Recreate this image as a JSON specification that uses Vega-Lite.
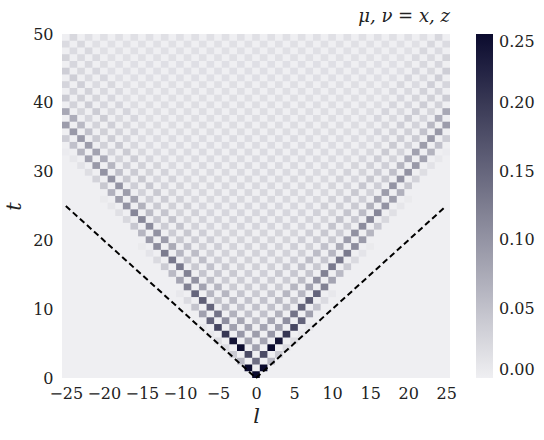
{
"$schema":"https://vega.github.io/schema/vega-lite/v6.json",
"width":388,"height":344,"autosize":"none",
"padding":{"left":62,"top":34,"right":94,"bottom":62},
"background":"white",
"config":{"view":{"fill":"#efeff2","stroke":null},"font":"DejaVu Serif"},
"title":{"text":"μ, ν = x, z","anchor":"end","frame":"group","font":"DejaVu Serif","fontStyle":"italic","fontWeight":"normal","fontSize":18,"color":"#222","offset":0},
"datasets":{
"cone":[{"s":"a","l":0,"t":0},{"s":"a","l":-25,"t":25},{"s":"b","l":0,"t":0},{"s":"b","l":25,"t":25}],
"cells":[
{"l":0,"t":0,"v":0.25},
{"l":-1,"t":1,"v":0.25},{"l":1,"t":1,"v":0.25},
{"l":-2,"t":2,"v":0.06},{"l":0,"t":2,"v":0.14},{"l":2,"t":2,"v":0.06},
{"l":-3,"t":3,"v":0.04},{"l":-1,"t":3,"v":0.18},{"l":1,"t":3,"v":0.18},{"l":3,"t":3,"v":0.04},
{"l":-4,"t":4,"v":0.021},{"l":-2,"t":4,"v":0.248},{"l":0,"t":4,"v":0.085},{"l":2,"t":4,"v":0.248},{"l":4,"t":4,"v":0.021},
{"l":-5,"t":5,"v":0.02},{"l":-3,"t":5,"v":0.238},{"l":-1,"t":5,"v":0.082},{"l":1,"t":5,"v":0.082},{"l":3,"t":5,"v":0.238},{"l":5,"t":5,"v":0.02},
{"l":-6,"t":6,"v":0.009},{"l":-4,"t":6,"v":0.202},{"l":-2,"t":6,"v":0.095},{"l":0,"t":6,"v":0.09},{"l":2,"t":6,"v":0.095},{"l":4,"t":6,"v":0.202},{"l":6,"t":6,"v":0.009},
{"l":-7,"t":7,"v":0.008},{"l":-5,"t":7,"v":0.184},{"l":-3,"t":7,"v":0.086},{"l":-1,"t":7,"v":0.082},{"l":1,"t":7,"v":0.082},{"l":3,"t":7,"v":0.086},{"l":5,"t":7,"v":0.184},{"l":7,"t":7,"v":0.008},
{"l":-6,"t":8,"v":0.152},{"l":-4,"t":8,"v":0.105},{"l":-2,"t":8,"v":0.08},{"l":0,"t":8,"v":0.055},{"l":2,"t":8,"v":0.08},{"l":4,"t":8,"v":0.105},{"l":6,"t":8,"v":0.152},
{"l":-7,"t":9,"v":0.086},{"l":-5,"t":9,"v":0.135},{"l":-3,"t":9,"v":0.067},{"l":-1,"t":9,"v":0.05},{"l":1,"t":9,"v":0.05},{"l":3,"t":9,"v":0.067},{"l":5,"t":9,"v":0.135},{"l":7,"t":9,"v":0.086},
{"l":-8,"t":10,"v":0.047},{"l":-6,"t":10,"v":0.151},{"l":-4,"t":10,"v":0.055},{"l":-2,"t":10,"v":0.05},{"l":0,"t":10,"v":0.05},{"l":2,"t":10,"v":0.05},{"l":4,"t":10,"v":0.055},{"l":6,"t":10,"v":0.151},{"l":8,"t":10,"v":0.047},
{"l":-9,"t":11,"v":0.022},{"l":-7,"t":11,"v":0.158},{"l":-5,"t":11,"v":0.052},{"l":-3,"t":11,"v":0.057},{"l":-1,"t":11,"v":0.049},{"l":1,"t":11,"v":0.049},{"l":3,"t":11,"v":0.057},{"l":5,"t":11,"v":0.052},{"l":7,"t":11,"v":0.158},{"l":9,"t":11,"v":0.022},
{"l":-10,"t":12,"v":0.008},{"l":-8,"t":12,"v":0.151},{"l":-6,"t":12,"v":0.061},{"l":-4,"t":12,"v":0.063},{"l":-2,"t":12,"v":0.046},{"l":0,"t":12,"v":0.041},{"l":2,"t":12,"v":0.046},{"l":4,"t":12,"v":0.063},{"l":6,"t":12,"v":0.061},{"l":8,"t":12,"v":0.151},{"l":10,"t":12,"v":0.008},
{"l":-9,"t":13,"v":0.121},{"l":-7,"t":13,"v":0.083},{"l":-5,"t":13,"v":0.063},{"l":-3,"t":13,"v":0.039},{"l":-1,"t":13,"v":0.039},{"l":1,"t":13,"v":0.039},{"l":3,"t":13,"v":0.039},{"l":5,"t":13,"v":0.063},{"l":7,"t":13,"v":0.083},{"l":9,"t":13,"v":0.121},
{"l":-10,"t":14,"v":0.082},{"l":-8,"t":14,"v":0.102},{"l":-6,"t":14,"v":0.056},{"l":-4,"t":14,"v":0.038},{"l":-2,"t":14,"v":0.038},{"l":0,"t":14,"v":0.037},{"l":2,"t":14,"v":0.038},{"l":4,"t":14,"v":0.038},{"l":6,"t":14,"v":0.056},{"l":8,"t":14,"v":0.102},{"l":10,"t":14,"v":0.082},
{"l":-11,"t":15,"v":0.058},{"l":-9,"t":15,"v":0.12},{"l":-7,"t":15,"v":0.046},{"l":-5,"t":15,"v":0.044},{"l":-3,"t":15,"v":0.042},{"l":-1,"t":15,"v":0.035},{"l":1,"t":15,"v":0.035},{"l":3,"t":15,"v":0.042},{"l":5,"t":15,"v":0.044},{"l":7,"t":15,"v":0.046},{"l":9,"t":15,"v":0.12},{"l":11,"t":15,"v":0.058},
{"l":-12,"t":16,"v":0.039},{"l":-10,"t":16,"v":0.129},{"l":-8,"t":16,"v":0.042},{"l":-6,"t":16,"v":0.05},{"l":-4,"t":16,"v":0.041},{"l":-2,"t":16,"v":0.034},{"l":0,"t":16,"v":0.034},{"l":2,"t":16,"v":0.034},{"l":4,"t":16,"v":0.041},{"l":6,"t":16,"v":0.05},{"l":8,"t":16,"v":0.042},{"l":10,"t":16,"v":0.129},{"l":12,"t":16,"v":0.039},
{"l":-13,"t":17,"v":0.023},{"l":-11,"t":17,"v":0.13},{"l":-9,"t":17,"v":0.045},{"l":-7,"t":17,"v":0.054},{"l":-5,"t":17,"v":0.037},{"l":-3,"t":17,"v":0.033},{"l":-1,"t":17,"v":0.033},{"l":1,"t":17,"v":0.033},{"l":3,"t":17,"v":0.033},{"l":5,"t":17,"v":0.037},{"l":7,"t":17,"v":0.054},{"l":9,"t":17,"v":0.045},{"l":11,"t":17,"v":0.13},{"l":13,"t":17,"v":0.023},
{"l":-14,"t":18,"v":0.012},{"l":-12,"t":18,"v":0.127},{"l":-10,"t":18,"v":0.061},{"l":-8,"t":18,"v":0.055},{"l":-6,"t":18,"v":0.034},{"l":-4,"t":18,"v":0.032},{"l":-2,"t":18,"v":0.032},{"l":0,"t":18,"v":0.032},{"l":2,"t":18,"v":0.032},{"l":4,"t":18,"v":0.032},{"l":6,"t":18,"v":0.034},{"l":8,"t":18,"v":0.055},{"l":10,"t":18,"v":0.061},{"l":12,"t":18,"v":0.127},{"l":14,"t":18,"v":0.012},
{"l":-15,"t":19,"v":0.006},{"l":-13,"t":19,"v":0.109},{"l":-11,"t":19,"v":0.076},{"l":-9,"t":19,"v":0.05},{"l":-7,"t":19,"v":0.034},{"l":-5,"t":19,"v":0.036},{"l":-3,"t":19,"v":0.031},{"l":-1,"t":19,"v":0.031},{"l":1,"t":19,"v":0.031},{"l":3,"t":19,"v":0.031},{"l":5,"t":19,"v":0.036},{"l":7,"t":19,"v":0.034},{"l":9,"t":19,"v":0.05},{"l":11,"t":19,"v":0.076},{"l":13,"t":19,"v":0.109},{"l":15,"t":19,"v":0.006},
{"l":-14,"t":20,"v":0.092},{"l":-12,"t":20,"v":0.091},{"l":-10,"t":20,"v":0.043},{"l":-8,"t":20,"v":0.038},{"l":-6,"t":20,"v":0.037},{"l":-4,"t":20,"v":0.03},{"l":-2,"t":20,"v":0.03},{"l":0,"t":20,"v":0.03},{"l":2,"t":20,"v":0.03},{"l":4,"t":20,"v":0.03},{"l":6,"t":20,"v":0.037},{"l":8,"t":20,"v":0.038},{"l":10,"t":20,"v":0.043},{"l":12,"t":20,"v":0.091},{"l":14,"t":20,"v":0.092},
{"l":-15,"t":21,"v":0.062},{"l":-13,"t":21,"v":0.102},{"l":-11,"t":21,"v":0.038},{"l":-9,"t":21,"v":0.043},{"l":-7,"t":21,"v":0.036},{"l":-5,"t":21,"v":0.029},{"l":-3,"t":21,"v":0.029},{"l":-1,"t":21,"v":0.029},{"l":1,"t":21,"v":0.029},{"l":3,"t":21,"v":0.029},{"l":5,"t":21,"v":0.029},{"l":7,"t":21,"v":0.036},{"l":9,"t":21,"v":0.043},{"l":11,"t":21,"v":0.038},{"l":13,"t":21,"v":0.102},{"l":15,"t":21,"v":0.062},
{"l":-16,"t":22,"v":0.044},{"l":-14,"t":22,"v":0.109},{"l":-12,"t":22,"v":0.038},{"l":-10,"t":22,"v":0.047},{"l":-8,"t":22,"v":0.032},{"l":-6,"t":22,"v":0.028},{"l":-4,"t":22,"v":0.028},{"l":-2,"t":22,"v":0.028},{"l":0,"t":22,"v":0.028},{"l":2,"t":22,"v":0.028},{"l":4,"t":22,"v":0.028},{"l":6,"t":22,"v":0.028},{"l":8,"t":22,"v":0.032},{"l":10,"t":22,"v":0.047},{"l":12,"t":22,"v":0.038},{"l":14,"t":22,"v":0.109},{"l":16,"t":22,"v":0.044},
{"l":-17,"t":23,"v":0.025},{"l":-15,"t":23,"v":0.113},{"l":-13,"t":23,"v":0.044},{"l":-11,"t":23,"v":0.048},{"l":-9,"t":23,"v":0.03},{"l":-7,"t":23,"v":0.031},{"l":-5,"t":23,"v":0.028},{"l":-3,"t":23,"v":0.028},{"l":-1,"t":23,"v":0.028},{"l":1,"t":23,"v":0.028},{"l":3,"t":23,"v":0.028},{"l":5,"t":23,"v":0.028},{"l":7,"t":23,"v":0.031},{"l":9,"t":23,"v":0.03},{"l":11,"t":23,"v":0.048},{"l":13,"t":23,"v":0.044},{"l":15,"t":23,"v":0.113},{"l":17,"t":23,"v":0.025},
{"l":-18,"t":24,"v":0.016},{"l":-16,"t":24,"v":0.114},{"l":-14,"t":24,"v":0.056},{"l":-12,"t":24,"v":0.046},{"l":-10,"t":24,"v":0.03},{"l":-8,"t":24,"v":0.033},{"l":-6,"t":24,"v":0.027},{"l":-4,"t":24,"v":0.027},{"l":-2,"t":24,"v":0.027},{"l":0,"t":24,"v":0.027},{"l":2,"t":24,"v":0.027},{"l":4,"t":24,"v":0.027},{"l":6,"t":24,"v":0.027},{"l":8,"t":24,"v":0.033},{"l":10,"t":24,"v":0.03},{"l":12,"t":24,"v":0.046},{"l":14,"t":24,"v":0.056},{"l":16,"t":24,"v":0.114},{"l":18,"t":24,"v":0.016},
{"l":-19,"t":25,"v":0.01},{"l":-17,"t":25,"v":0.101},{"l":-15,"t":25,"v":0.067},{"l":-13,"t":25,"v":0.041},{"l":-11,"t":25,"v":0.034},{"l":-9,"t":25,"v":0.034},{"l":-7,"t":25,"v":0.026},{"l":-5,"t":25,"v":0.026},{"l":-3,"t":25,"v":0.026},{"l":-1,"t":25,"v":0.026},{"l":1,"t":25,"v":0.026},{"l":3,"t":25,"v":0.026},{"l":5,"t":25,"v":0.026},{"l":7,"t":25,"v":0.026},{"l":9,"t":25,"v":0.034},{"l":11,"t":25,"v":0.034},{"l":13,"t":25,"v":0.041},{"l":15,"t":25,"v":0.067},{"l":17,"t":25,"v":0.101},{"l":19,"t":25,"v":0.01},
{"l":-20,"t":26,"v":0.006},{"l":-18,"t":26,"v":0.089},{"l":-16,"t":26,"v":0.081},{"l":-14,"t":26,"v":0.036},{"l":-12,"t":26,"v":0.038},{"l":-10,"t":26,"v":0.033},{"l":-8,"t":26,"v":0.025},{"l":-6,"t":26,"v":0.025},{"l":-4,"t":26,"v":0.025},{"l":-2,"t":26,"v":0.025},{"l":0,"t":26,"v":0.025},{"l":2,"t":26,"v":0.025},{"l":4,"t":26,"v":0.025},{"l":6,"t":26,"v":0.025},{"l":8,"t":26,"v":0.025},{"l":10,"t":26,"v":0.033},{"l":12,"t":26,"v":0.038},{"l":14,"t":26,"v":0.036},{"l":16,"t":26,"v":0.081},{"l":18,"t":26,"v":0.089},{"l":20,"t":26,"v":0.006},
{"l":-19,"t":27,"v":0.068},{"l":-17,"t":27,"v":0.09},{"l":-15,"t":27,"v":0.032},{"l":-13,"t":27,"v":0.042},{"l":-11,"t":27,"v":0.029},{"l":-9,"t":27,"v":0.025},{"l":-7,"t":27,"v":0.025},{"l":-5,"t":27,"v":0.025},{"l":-3,"t":27,"v":0.025},{"l":-1,"t":27,"v":0.025},{"l":1,"t":27,"v":0.025},{"l":3,"t":27,"v":0.025},{"l":5,"t":27,"v":0.025},{"l":7,"t":27,"v":0.025},{"l":9,"t":27,"v":0.025},{"l":11,"t":27,"v":0.029},{"l":13,"t":27,"v":0.042},{"l":15,"t":27,"v":0.032},{"l":17,"t":27,"v":0.09},{"l":19,"t":27,"v":0.068},
{"l":-20,"t":28,"v":0.043},{"l":-18,"t":28,"v":0.1},{"l":-16,"t":28,"v":0.036},{"l":-14,"t":28,"v":0.044},{"l":-12,"t":28,"v":0.028},{"l":-10,"t":28,"v":0.029},{"l":-8,"t":28,"v":0.024},{"l":-6,"t":28,"v":0.024},{"l":-4,"t":28,"v":0.024},{"l":-2,"t":28,"v":0.024},{"l":0,"t":28,"v":0.024},{"l":2,"t":28,"v":0.024},{"l":4,"t":28,"v":0.024},{"l":6,"t":28,"v":0.024},{"l":8,"t":28,"v":0.024},{"l":10,"t":28,"v":0.029},{"l":12,"t":28,"v":0.028},{"l":14,"t":28,"v":0.044},{"l":16,"t":28,"v":0.036},{"l":18,"t":28,"v":0.1},{"l":20,"t":28,"v":0.043},
{"l":-21,"t":29,"v":0.031},{"l":-19,"t":29,"v":0.101},{"l":-17,"t":29,"v":0.042},{"l":-15,"t":29,"v":0.043},{"l":-13,"t":29,"v":0.027},{"l":-11,"t":29,"v":0.031},{"l":-9,"t":29,"v":0.024},{"l":-7,"t":29,"v":0.024},{"l":-5,"t":29,"v":0.024},{"l":-3,"t":29,"v":0.024},{"l":-1,"t":29,"v":0.024},{"l":1,"t":29,"v":0.024},{"l":3,"t":29,"v":0.024},{"l":5,"t":29,"v":0.024},{"l":7,"t":29,"v":0.024},{"l":9,"t":29,"v":0.024},{"l":11,"t":29,"v":0.031},{"l":13,"t":29,"v":0.027},{"l":15,"t":29,"v":0.043},{"l":17,"t":29,"v":0.042},{"l":19,"t":29,"v":0.101},{"l":21,"t":29,"v":0.031},
{"l":-22,"t":30,"v":0.019},{"l":-20,"t":30,"v":0.101},{"l":-18,"t":30,"v":0.051},{"l":-16,"t":30,"v":0.039},{"l":-14,"t":30,"v":0.03},{"l":-12,"t":30,"v":0.031},{"l":-10,"t":30,"v":0.023},{"l":-8,"t":30,"v":0.023},{"l":-6,"t":30,"v":0.023},{"l":-4,"t":30,"v":0.023},{"l":-2,"t":30,"v":0.023},{"l":0,"t":30,"v":0.023},{"l":2,"t":30,"v":0.023},{"l":4,"t":30,"v":0.023},{"l":6,"t":30,"v":0.023},{"l":8,"t":30,"v":0.023},{"l":10,"t":30,"v":0.023},{"l":12,"t":30,"v":0.031},{"l":14,"t":30,"v":0.03},{"l":16,"t":30,"v":0.039},{"l":18,"t":30,"v":0.051},{"l":20,"t":30,"v":0.101},{"l":22,"t":30,"v":0.019},
{"l":-23,"t":31,"v":0.014},{"l":-21,"t":31,"v":0.094},{"l":-19,"t":31,"v":0.062},{"l":-17,"t":31,"v":0.035},{"l":-15,"t":31,"v":0.033},{"l":-13,"t":31,"v":0.029},{"l":-11,"t":31,"v":0.023},{"l":-9,"t":31,"v":0.023},{"l":-7,"t":31,"v":0.023},{"l":-5,"t":31,"v":0.023},{"l":-3,"t":31,"v":0.023},{"l":-1,"t":31,"v":0.023},{"l":1,"t":31,"v":0.023},{"l":3,"t":31,"v":0.023},{"l":5,"t":31,"v":0.023},{"l":7,"t":31,"v":0.023},{"l":9,"t":31,"v":0.023},{"l":11,"t":31,"v":0.023},{"l":13,"t":31,"v":0.029},{"l":15,"t":31,"v":0.033},{"l":17,"t":31,"v":0.035},{"l":19,"t":31,"v":0.062},{"l":21,"t":31,"v":0.094},{"l":23,"t":31,"v":0.014},
{"l":-24,"t":32,"v":0.009},{"l":-22,"t":32,"v":0.084},{"l":-20,"t":32,"v":0.073},{"l":-18,"t":32,"v":0.031},{"l":-16,"t":32,"v":0.037},{"l":-14,"t":32,"v":0.027},{"l":-12,"t":32,"v":0.022},{"l":-10,"t":32,"v":0.022},{"l":-8,"t":32,"v":0.022},{"l":-6,"t":32,"v":0.022},{"l":-4,"t":32,"v":0.022},{"l":-2,"t":32,"v":0.022},{"l":0,"t":32,"v":0.022},{"l":2,"t":32,"v":0.022},{"l":4,"t":32,"v":0.022},{"l":6,"t":32,"v":0.022},{"l":8,"t":32,"v":0.022},{"l":10,"t":32,"v":0.022},{"l":12,"t":32,"v":0.022},{"l":14,"t":32,"v":0.027},{"l":16,"t":32,"v":0.037},{"l":18,"t":32,"v":0.031},{"l":20,"t":32,"v":0.073},{"l":22,"t":32,"v":0.084},{"l":24,"t":32,"v":0.009},
{"l":-25,"t":33,"v":0.004},{"l":-23,"t":33,"v":0.065},{"l":-21,"t":33,"v":0.084},{"l":-19,"t":33,"v":0.031},{"l":-17,"t":33,"v":0.04},{"l":-15,"t":33,"v":0.025},{"l":-13,"t":33,"v":0.022},{"l":-11,"t":33,"v":0.022},{"l":-9,"t":33,"v":0.022},{"l":-7,"t":33,"v":0.022},{"l":-5,"t":33,"v":0.022},{"l":-3,"t":33,"v":0.022},{"l":-1,"t":33,"v":0.022},{"l":1,"t":33,"v":0.022},{"l":3,"t":33,"v":0.022},{"l":5,"t":33,"v":0.022},{"l":7,"t":33,"v":0.022},{"l":9,"t":33,"v":0.022},{"l":11,"t":33,"v":0.022},{"l":13,"t":33,"v":0.022},{"l":15,"t":33,"v":0.025},{"l":17,"t":33,"v":0.04},{"l":19,"t":33,"v":0.031},{"l":21,"t":33,"v":0.084},{"l":23,"t":33,"v":0.065},{"l":25,"t":33,"v":0.004},
{"l":-24,"t":34,"v":0.05},{"l":-22,"t":34,"v":0.09},{"l":-20,"t":34,"v":0.033},{"l":-18,"t":34,"v":0.041},{"l":-16,"t":34,"v":0.025},{"l":-14,"t":34,"v":0.021},{"l":-12,"t":34,"v":0.021},{"l":-10,"t":34,"v":0.021},{"l":-8,"t":34,"v":0.021},{"l":-6,"t":34,"v":0.021},{"l":-4,"t":34,"v":0.021},{"l":-2,"t":34,"v":0.021},{"l":0,"t":34,"v":0.021},{"l":2,"t":34,"v":0.021},{"l":4,"t":34,"v":0.021},{"l":6,"t":34,"v":0.021},{"l":8,"t":34,"v":0.021},{"l":10,"t":34,"v":0.021},{"l":12,"t":34,"v":0.021},{"l":14,"t":34,"v":0.021},{"l":16,"t":34,"v":0.025},{"l":18,"t":34,"v":0.041},{"l":20,"t":34,"v":0.033},{"l":22,"t":34,"v":0.09},{"l":24,"t":34,"v":0.05},
{"l":-25,"t":35,"v":0.036},{"l":-23,"t":35,"v":0.093},{"l":-21,"t":35,"v":0.04},{"l":-19,"t":35,"v":0.037},{"l":-17,"t":35,"v":0.028},{"l":-15,"t":35,"v":0.021},{"l":-13,"t":35,"v":0.021},{"l":-11,"t":35,"v":0.021},{"l":-9,"t":35,"v":0.021},{"l":-7,"t":35,"v":0.021},{"l":-5,"t":35,"v":0.021},{"l":-3,"t":35,"v":0.021},{"l":-1,"t":35,"v":0.021},{"l":1,"t":35,"v":0.021},{"l":3,"t":35,"v":0.021},{"l":5,"t":35,"v":0.021},{"l":7,"t":35,"v":0.021},{"l":9,"t":35,"v":0.021},{"l":11,"t":35,"v":0.021},{"l":13,"t":35,"v":0.021},{"l":15,"t":35,"v":0.021},{"l":17,"t":35,"v":0.028},{"l":19,"t":35,"v":0.037},{"l":21,"t":35,"v":0.04},{"l":23,"t":35,"v":0.093},{"l":25,"t":35,"v":0.036},
{"l":-24,"t":36,"v":0.094},{"l":-22,"t":36,"v":0.049},{"l":-20,"t":36,"v":0.034},{"l":-18,"t":36,"v":0.031},{"l":-16,"t":36,"v":0.028},{"l":-14,"t":36,"v":0.02},{"l":-12,"t":36,"v":0.02},{"l":-10,"t":36,"v":0.02},{"l":-8,"t":36,"v":0.02},{"l":-6,"t":36,"v":0.02},{"l":-4,"t":36,"v":0.02},{"l":-2,"t":36,"v":0.02},{"l":0,"t":36,"v":0.02},{"l":2,"t":36,"v":0.02},{"l":4,"t":36,"v":0.02},{"l":6,"t":36,"v":0.02},{"l":8,"t":36,"v":0.02},{"l":10,"t":36,"v":0.02},{"l":12,"t":36,"v":0.02},{"l":14,"t":36,"v":0.02},{"l":16,"t":36,"v":0.028},{"l":18,"t":36,"v":0.031},{"l":20,"t":36,"v":0.034},{"l":22,"t":36,"v":0.049},{"l":24,"t":36,"v":0.094},
{"l":-25,"t":37,"v":0.091},{"l":-23,"t":37,"v":0.059},{"l":-21,"t":37,"v":0.031},{"l":-19,"t":37,"v":0.035},{"l":-17,"t":37,"v":0.025},{"l":-15,"t":37,"v":0.02},{"l":-13,"t":37,"v":0.02},{"l":-11,"t":37,"v":0.02},{"l":-9,"t":37,"v":0.02},{"l":-7,"t":37,"v":0.02},{"l":-5,"t":37,"v":0.02},{"l":-3,"t":37,"v":0.02},{"l":-1,"t":37,"v":0.02},{"l":1,"t":37,"v":0.02},{"l":3,"t":37,"v":0.02},{"l":5,"t":37,"v":0.02},{"l":7,"t":37,"v":0.02},{"l":9,"t":37,"v":0.02},{"l":11,"t":37,"v":0.02},{"l":13,"t":37,"v":0.02},{"l":15,"t":37,"v":0.02},{"l":17,"t":37,"v":0.025},{"l":19,"t":37,"v":0.035},{"l":21,"t":37,"v":0.031},{"l":23,"t":37,"v":0.059},{"l":25,"t":37,"v":0.091},
{"l":-24,"t":38,"v":0.072},{"l":-22,"t":38,"v":0.028},{"l":-20,"t":38,"v":0.038},{"l":-18,"t":38,"v":0.024},{"l":-16,"t":38,"v":0.026},{"l":-14,"t":38,"v":0.019},{"l":-12,"t":38,"v":0.019},{"l":-10,"t":38,"v":0.019},{"l":-8,"t":38,"v":0.019},{"l":-6,"t":38,"v":0.019},{"l":-4,"t":38,"v":0.019},{"l":-2,"t":38,"v":0.019},{"l":0,"t":38,"v":0.019},{"l":2,"t":38,"v":0.019},{"l":4,"t":38,"v":0.019},{"l":6,"t":38,"v":0.019},{"l":8,"t":38,"v":0.019},{"l":10,"t":38,"v":0.019},{"l":12,"t":38,"v":0.019},{"l":14,"t":38,"v":0.019},{"l":16,"t":38,"v":0.026},{"l":18,"t":38,"v":0.024},{"l":20,"t":38,"v":0.038},{"l":22,"t":38,"v":0.028},{"l":24,"t":38,"v":0.072},
{"l":-25,"t":39,"v":0.078},{"l":-23,"t":39,"v":0.029},{"l":-21,"t":39,"v":0.038},{"l":-19,"t":39,"v":0.024},{"l":-17,"t":39,"v":0.028},{"l":-15,"t":39,"v":0.019},{"l":-13,"t":39,"v":0.019},{"l":-11,"t":39,"v":0.019},{"l":-9,"t":39,"v":0.019},{"l":-7,"t":39,"v":0.019},{"l":-5,"t":39,"v":0.019},{"l":-3,"t":39,"v":0.019},{"l":-1,"t":39,"v":0.019},{"l":1,"t":39,"v":0.019},{"l":3,"t":39,"v":0.019},{"l":5,"t":39,"v":0.019},{"l":7,"t":39,"v":0.019},{"l":9,"t":39,"v":0.019},{"l":11,"t":39,"v":0.019},{"l":13,"t":39,"v":0.019},{"l":15,"t":39,"v":0.019},{"l":17,"t":39,"v":0.028},{"l":19,"t":39,"v":0.024},{"l":21,"t":39,"v":0.038},{"l":23,"t":39,"v":0.029},{"l":25,"t":39,"v":0.078},
{"l":-24,"t":40,"v":0.032},{"l":-22,"t":40,"v":0.037},{"l":-20,"t":40,"v":0.026},{"l":-18,"t":40,"v":0.027},{"l":-16,"t":40,"v":0.019},{"l":-14,"t":40,"v":0.019},{"l":-12,"t":40,"v":0.019},{"l":-10,"t":40,"v":0.019},{"l":-8,"t":40,"v":0.019},{"l":-6,"t":40,"v":0.019},{"l":-4,"t":40,"v":0.019},{"l":-2,"t":40,"v":0.019},{"l":0,"t":40,"v":0.019},{"l":2,"t":40,"v":0.019},{"l":4,"t":40,"v":0.019},{"l":6,"t":40,"v":0.019},{"l":8,"t":40,"v":0.019},{"l":10,"t":40,"v":0.019},{"l":12,"t":40,"v":0.019},{"l":14,"t":40,"v":0.019},{"l":16,"t":40,"v":0.019},{"l":18,"t":40,"v":0.027},{"l":20,"t":40,"v":0.026},{"l":22,"t":40,"v":0.037},{"l":24,"t":40,"v":0.032},
{"l":-25,"t":41,"v":0.04},{"l":-23,"t":41,"v":0.034},{"l":-21,"t":41,"v":0.029},{"l":-19,"t":41,"v":0.026},{"l":-17,"t":41,"v":0.018},{"l":-15,"t":41,"v":0.018},{"l":-13,"t":41,"v":0.018},{"l":-11,"t":41,"v":0.018},{"l":-9,"t":41,"v":0.018},{"l":-7,"t":41,"v":0.018},{"l":-5,"t":41,"v":0.018},{"l":-3,"t":41,"v":0.018},{"l":-1,"t":41,"v":0.018},{"l":1,"t":41,"v":0.018},{"l":3,"t":41,"v":0.018},{"l":5,"t":41,"v":0.018},{"l":7,"t":41,"v":0.018},{"l":9,"t":41,"v":0.018},{"l":11,"t":41,"v":0.018},{"l":13,"t":41,"v":0.018},{"l":15,"t":41,"v":0.018},{"l":17,"t":41,"v":0.018},{"l":19,"t":41,"v":0.026},{"l":21,"t":41,"v":0.029},{"l":23,"t":41,"v":0.034},{"l":25,"t":41,"v":0.04},
{"l":-24,"t":42,"v":0.031},{"l":-22,"t":42,"v":0.032},{"l":-20,"t":42,"v":0.024},{"l":-18,"t":42,"v":0.023},{"l":-16,"t":42,"v":0.018},{"l":-14,"t":42,"v":0.018},{"l":-12,"t":42,"v":0.018},{"l":-10,"t":42,"v":0.018},{"l":-8,"t":42,"v":0.018},{"l":-6,"t":42,"v":0.018},{"l":-4,"t":42,"v":0.018},{"l":-2,"t":42,"v":0.018},{"l":0,"t":42,"v":0.018},{"l":2,"t":42,"v":0.018},{"l":4,"t":42,"v":0.018},{"l":6,"t":42,"v":0.018},{"l":8,"t":42,"v":0.018},{"l":10,"t":42,"v":0.018},{"l":12,"t":42,"v":0.018},{"l":14,"t":42,"v":0.018},{"l":16,"t":42,"v":0.018},{"l":18,"t":42,"v":0.023},{"l":20,"t":42,"v":0.024},{"l":22,"t":42,"v":0.032},{"l":24,"t":42,"v":0.031},
{"l":-25,"t":43,"v":0.028},{"l":-23,"t":43,"v":0.035},{"l":-21,"t":43,"v":0.022},{"l":-19,"t":43,"v":0.025},{"l":-17,"t":43,"v":0.018},{"l":-15,"t":43,"v":0.018},{"l":-13,"t":43,"v":0.018},{"l":-11,"t":43,"v":0.018},{"l":-9,"t":43,"v":0.018},{"l":-7,"t":43,"v":0.018},{"l":-5,"t":43,"v":0.018},{"l":-3,"t":43,"v":0.018},{"l":-1,"t":43,"v":0.018},{"l":1,"t":43,"v":0.018},{"l":3,"t":43,"v":0.018},{"l":5,"t":43,"v":0.018},{"l":7,"t":43,"v":0.018},{"l":9,"t":43,"v":0.018},{"l":11,"t":43,"v":0.018},{"l":13,"t":43,"v":0.018},{"l":15,"t":43,"v":0.018},{"l":17,"t":43,"v":0.018},{"l":19,"t":43,"v":0.025},{"l":21,"t":43,"v":0.022},{"l":23,"t":43,"v":0.035},{"l":25,"t":43,"v":0.028},
{"l":-24,"t":44,"v":0.036},{"l":-22,"t":44,"v":0.023},{"l":-20,"t":44,"v":0.026},{"l":-18,"t":44,"v":0.017},{"l":-16,"t":44,"v":0.017},{"l":-14,"t":44,"v":0.017},{"l":-12,"t":44,"v":0.017},{"l":-10,"t":44,"v":0.017},{"l":-8,"t":44,"v":0.017},{"l":-6,"t":44,"v":0.017},{"l":-4,"t":44,"v":0.017},{"l":-2,"t":44,"v":0.017},{"l":0,"t":44,"v":0.017},{"l":2,"t":44,"v":0.017},{"l":4,"t":44,"v":0.017},{"l":6,"t":44,"v":0.017},{"l":8,"t":44,"v":0.017},{"l":10,"t":44,"v":0.017},{"l":12,"t":44,"v":0.017},{"l":14,"t":44,"v":0.017},{"l":16,"t":44,"v":0.017},{"l":18,"t":44,"v":0.017},{"l":20,"t":44,"v":0.026},{"l":22,"t":44,"v":0.023},{"l":24,"t":44,"v":0.036},
{"l":-25,"t":45,"v":0.036},{"l":-23,"t":45,"v":0.025},{"l":-21,"t":45,"v":0.026},{"l":-19,"t":45,"v":0.017},{"l":-17,"t":45,"v":0.017},{"l":-15,"t":45,"v":0.017},{"l":-13,"t":45,"v":0.017},{"l":-11,"t":45,"v":0.017},{"l":-9,"t":45,"v":0.017},{"l":-7,"t":45,"v":0.017},{"l":-5,"t":45,"v":0.017},{"l":-3,"t":45,"v":0.017},{"l":-1,"t":45,"v":0.017},{"l":1,"t":45,"v":0.017},{"l":3,"t":45,"v":0.017},{"l":5,"t":45,"v":0.017},{"l":7,"t":45,"v":0.017},{"l":9,"t":45,"v":0.017},{"l":11,"t":45,"v":0.017},{"l":13,"t":45,"v":0.017},{"l":15,"t":45,"v":0.017},{"l":17,"t":45,"v":0.017},{"l":19,"t":45,"v":0.017},{"l":21,"t":45,"v":0.026},{"l":23,"t":45,"v":0.025},{"l":25,"t":45,"v":0.036},
{"l":-24,"t":46,"v":0.027},{"l":-22,"t":46,"v":0.025},{"l":-20,"t":46,"v":0.02},{"l":-18,"t":46,"v":0.017},{"l":-16,"t":46,"v":0.017},{"l":-14,"t":46,"v":0.017},{"l":-12,"t":46,"v":0.017},{"l":-10,"t":46,"v":0.017},{"l":-8,"t":46,"v":0.017},{"l":-6,"t":46,"v":0.017},{"l":-4,"t":46,"v":0.017},{"l":-2,"t":46,"v":0.017},{"l":0,"t":46,"v":0.017},{"l":2,"t":46,"v":0.017},{"l":4,"t":46,"v":0.017},{"l":6,"t":46,"v":0.017},{"l":8,"t":46,"v":0.017},{"l":10,"t":46,"v":0.017},{"l":12,"t":46,"v":0.017},{"l":14,"t":46,"v":0.017},{"l":16,"t":46,"v":0.017},{"l":18,"t":46,"v":0.017},{"l":20,"t":46,"v":0.02},{"l":22,"t":46,"v":0.025},{"l":24,"t":46,"v":0.027},
{"l":-25,"t":47,"v":0.03},{"l":-23,"t":47,"v":0.023},{"l":-21,"t":47,"v":0.023},{"l":-19,"t":47,"v":0.016},{"l":-17,"t":47,"v":0.016},{"l":-15,"t":47,"v":0.016},{"l":-13,"t":47,"v":0.016},{"l":-11,"t":47,"v":0.016},{"l":-9,"t":47,"v":0.016},{"l":-7,"t":47,"v":0.016},{"l":-5,"t":47,"v":0.016},{"l":-3,"t":47,"v":0.016},{"l":-1,"t":47,"v":0.016},{"l":1,"t":47,"v":0.016},{"l":3,"t":47,"v":0.016},{"l":5,"t":47,"v":0.016},{"l":7,"t":47,"v":0.016},{"l":9,"t":47,"v":0.016},{"l":11,"t":47,"v":0.016},{"l":13,"t":47,"v":0.016},{"l":15,"t":47,"v":0.016},{"l":17,"t":47,"v":0.016},{"l":19,"t":47,"v":0.016},{"l":21,"t":47,"v":0.023},{"l":23,"t":47,"v":0.023},{"l":25,"t":47,"v":0.03},
{"l":-24,"t":48,"v":0.022},{"l":-22,"t":48,"v":0.025},{"l":-20,"t":48,"v":0.016},{"l":-18,"t":48,"v":0.016},{"l":-16,"t":48,"v":0.016},{"l":-14,"t":48,"v":0.016},{"l":-12,"t":48,"v":0.016},{"l":-10,"t":48,"v":0.016},{"l":-8,"t":48,"v":0.016},{"l":-6,"t":48,"v":0.016},{"l":-4,"t":48,"v":0.016},{"l":-2,"t":48,"v":0.016},{"l":0,"t":48,"v":0.016},{"l":2,"t":48,"v":0.016},{"l":4,"t":48,"v":0.016},{"l":6,"t":48,"v":0.016},{"l":8,"t":48,"v":0.016},{"l":10,"t":48,"v":0.016},{"l":12,"t":48,"v":0.016},{"l":14,"t":48,"v":0.016},{"l":16,"t":48,"v":0.016},{"l":18,"t":48,"v":0.016},{"l":20,"t":48,"v":0.016},{"l":22,"t":48,"v":0.025},{"l":24,"t":48,"v":0.022},
{"l":-25,"t":49,"v":0.022},{"l":-23,"t":49,"v":0.025},{"l":-21,"t":49,"v":0.016},{"l":-19,"t":49,"v":0.016},{"l":-17,"t":49,"v":0.016},{"l":-15,"t":49,"v":0.016},{"l":-13,"t":49,"v":0.016},{"l":-11,"t":49,"v":0.016},{"l":-9,"t":49,"v":0.016},{"l":-7,"t":49,"v":0.016},{"l":-5,"t":49,"v":0.016},{"l":-3,"t":49,"v":0.016},{"l":-1,"t":49,"v":0.016},{"l":1,"t":49,"v":0.016},{"l":3,"t":49,"v":0.016},{"l":5,"t":49,"v":0.016},{"l":7,"t":49,"v":0.016},{"l":9,"t":49,"v":0.016},{"l":11,"t":49,"v":0.016},{"l":13,"t":49,"v":0.016},{"l":15,"t":49,"v":0.016},{"l":17,"t":49,"v":0.016},{"l":19,"t":49,"v":0.016},{"l":21,"t":49,"v":0.016},{"l":23,"t":49,"v":0.025},{"l":25,"t":49,"v":0.022},
{"l":-24,"t":50,"v":0.025},{"l":-22,"t":50,"v":0.016},{"l":-20,"t":50,"v":0.016},{"l":-18,"t":50,"v":0.016},{"l":-16,"t":50,"v":0.016},{"l":-14,"t":50,"v":0.016},{"l":-12,"t":50,"v":0.016},{"l":-10,"t":50,"v":0.016},{"l":-8,"t":50,"v":0.016},{"l":-6,"t":50,"v":0.016},{"l":-4,"t":50,"v":0.016},{"l":-2,"t":50,"v":0.016},{"l":0,"t":50,"v":0.016},{"l":2,"t":50,"v":0.016},{"l":4,"t":50,"v":0.016},{"l":6,"t":50,"v":0.016},{"l":8,"t":50,"v":0.016},{"l":10,"t":50,"v":0.016},{"l":12,"t":50,"v":0.016},{"l":14,"t":50,"v":0.016},{"l":16,"t":50,"v":0.016},{"l":18,"t":50,"v":0.016},{"l":20,"t":50,"v":0.016},{"l":22,"t":50,"v":0.016},{"l":24,"t":50,"v":0.025}
]},
"layer":[
{"data":{"name":"cells"},"mark":{"type":"rect"},
"encoding":{
"x":{"field":"l","type":"ordinal","axis":null,"scale":{"domain":[-25,-24,-23,-22,-21,-20,-19,-18,-17,-16,-15,-14,-13,-12,-11,-10,-9,-8,-7,-6,-5,-4,-3,-2,-1,0,1,2,3,4,5,6,7,8,9,10,11,12,13,14,15,16,17,18,19,20,21,22,23,24,25],"paddingInner":0,"paddingOuter":0}},
"y":{"field":"t","type":"ordinal","axis":null,"scale":{"domain":[50,49,48,47,46,45,44,43,42,41,40,39,38,37,36,35,34,33,32,31,30,29,28,27,26,25,24,23,22,21,20,19,18,17,16,15,14,13,12,11,10,9,8,7,6,5,4,3,2,1,0],"paddingInner":0,"paddingOuter":0}},
"color":{"field":"v","type":"quantitative","scale":{"domain":[0,0.25],"range":["#efeff2","#0b0b2e"],"interpolate":"rgb","clamp":true},
"legend":{"title":null,"orient":"right","offset":25,"padding":0,"gradientLength":344,"gradientThickness":17,"gradientStrokeWidth":0,"values":[0,0.05,0.1,0.15,0.2,0.25],"format":".2f","labelFont":"DejaVu Serif","labelFontSize":16,"labelColor":"#222","labelOffset":6,"labelOverlap":false}}
}},
{"data":{"name":"cone"},"mark":{"type":"line","color":"black","strokeWidth":2,"strokeDash":[6,3.5]},
"encoding":{
"x":{"field":"l","type":"quantitative","scale":{"domain":[-25.5,25.5],"nice":false,"zero":false},
"axis":{"values":[-25,-20,-15,-10,-5,0,5,10,15,20,25],"format":"d","ticks":false,"domain":false,"grid":false,"labelFont":"DejaVu Serif","labelFontSize":16,"labelColor":"#222","labelPadding":7,"labelOverlap":false,"labelFlush":false,"title":"l","titleFont":"DejaVu Serif","titleFontStyle":"italic","titleFontWeight":"normal","titleFontSize":21,"titleColor":"#222","titlePadding":4}},
"y":{"field":"t","type":"quantitative","scale":{"domain":[0,50],"nice":false,"zero":false},
"axis":{"values":[0,10,20,30,40,50],"format":"d","ticks":false,"domain":false,"grid":false,"labelFont":"DejaVu Serif","labelFontSize":16,"labelColor":"#222","labelPadding":9,"labelOverlap":false,"labelFlush":false,"title":"t","titleFont":"DejaVu Serif","titleFontStyle":"italic","titleFontWeight":"normal","titleFontSize":21,"titleColor":"#222","titlePadding":8}},
"detail":{"field":"s","type":"nominal"}
}}
],
"resolve":{"scale":{"x":"independent","y":"independent"}}
}
